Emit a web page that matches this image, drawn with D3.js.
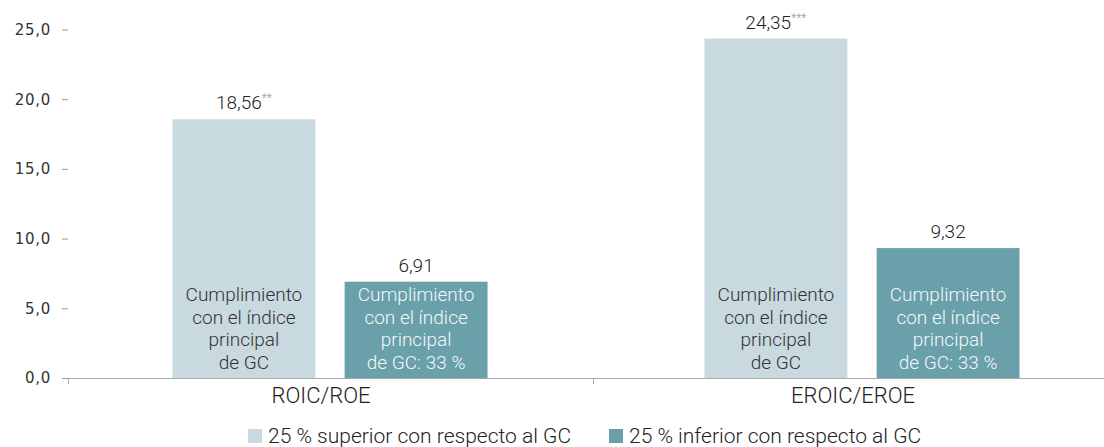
<!DOCTYPE html>
<html>
<head>
<meta charset="utf-8">
<script src="https://cdn.jsdelivr.net/npm/d3@7"></script>
<style>
  body { margin: 0; background: #fff; }
  svg { display: block; font-family: Roboto, sans-serif; font-weight: 300; }
</style>
</head>
<body>
<div id="chart"></div>
<script>
(function() {

    var width = 1104,
    height = 447;

    // data
    var categories = ["ROIC/ROE", "EROIC/EROE"]
    var seriesNames = ["25 % superior con respecto al GC", "25 % inferior con respecto al GC"]
    var superiorValues = [18.56, 24.35]
    var inferiorValues = [6.91, 9.32]
    var superiorStars = ["**", "***"]
    var inferiorStars = ["", ""]
    var superiorLines = ["Cumplimiento", "con el índice", "principal", "de GC"]
    var inferiorLines = ["Cumplimiento", "con el índice", "principal", "de GC: 33 %"]
    var yTicks = [0, 5, 10, 15, 20, 25]

    var colors = ["#c8d9e0", "#6aa0aa"]
    var textColors = ["#333", "#f4f8f9"]

    var rows = categories.map(function(c, i) {
        return {
            cat: c,
            bars: [
                { s: 0, value: superiorValues[i], stars: superiorStars[i], lines: superiorLines },
                { s: 1, value: inferiorValues[i], stars: inferiorStars[i], lines: inferiorLines }
            ]
        }
    })

    var svg = d3.select("#chart")
    .append("svg")
    .attr("width", width)
    .attr("height", height)

    var y = d3.scaleLinear().domain([0, 25]).range([378, 29.5])

    // bars sit on a slightly wider band than the axis ticks
    var x0 = d3.scaleBand().domain(categories).range([64, 1128])
    var xTicks = d3.scaleBand().domain(categories).range([68, 1118])

    var x1 = d3.scaleBand().domain([0, 1]).range([0, x0.bandwidth()])
        .paddingInner(0.17).paddingOuter(0.63)

    var fmt = function(v) { return d3.format(".2f")(v).replace(".", ",") }

    // y axis ticks (no domain line)
    var yAxis = svg.append("g")
    yAxis.selectAll(".ytick")
        .data(yTicks)
        .enter().append("line")
        .attr("x1", 62).attr("x2", 68)
        .attr("y1", function(d) { return y(d) + 0.5 })
        .attr("y2", function(d) { return y(d) + 0.5 })
        .attr("stroke", "#999")
        .attr("stroke-width", 1)

    yAxis.selectAll(".ylab")
        .data(yTicks)
        .enter().append("text")
        .attr("x", 51)
        .attr("y", function(d) { return y(d) })
        .attr("dy", "0.36em")
        .attr("text-anchor", "end")
        .attr("font-size", 15)
        .attr("font-weight", 400)
        .attr("letter-spacing", 0.7)
        .attr("font-family", "'DejaVu Sans', sans-serif")
        .attr("fill", "#333")
        .text(function(d) { return d3.format(".1f")(d).replace(".", ",") })

    // bars
    var groups = svg.selectAll(".grp")
        .data(rows)
        .enter().append("g")
        .attr("transform", function(d) { return "translate(" + x0(d.cat) + ",0)" })

    var bars = groups.selectAll(".bar")
        .data(function(d) { return d.bars })
        .enter().append("g")

    bars.append("rect")
        .attr("x", function(d) { return x1(d.s) })
        .attr("y", function(d) { return y(d.value) })
        .attr("width", x1.bandwidth())
        .attr("height", function(d) { return y(0) - y(d.value) })
        .attr("fill", function(d) { return colors[d.s] })

    var vl = bars.append("text")
        .attr("x", function(d) { return x1(d.s) + x1.bandwidth() / 2 })
        .attr("y", function(d) { return y(d.value) - 10 })
        .attr("text-anchor", "middle")
        .attr("font-size", 19)
        .attr("fill", "#222")
    vl.append("tspan").text(function(d) { return fmt(d.value) })
    vl.append("tspan")
        .attr("dy", -7)
        .attr("font-size", 12)
        .attr("fill", "#999")
        .text(function(d) { return d.stars })

    bars.each(function(d) {
        var t = d3.select(this).append("text")
            .attr("text-anchor", "middle")
            .attr("font-size", 19)
            .attr("fill", textColors[d.s])
        t.selectAll("tspan")
            .data(d.lines)
            .enter().append("tspan")
            .attr("x", x1(d.s) + x1.bandwidth() / 2)
            .attr("y", function(l, i) { return 301 + i * 22.5 })
            .text(function(l) { return l })
    })

    // x axis
    svg.append("line")
        .attr("x1", 68).attr("x2", width)
        .attr("y1", y(0) + 0.5).attr("y2", y(0) + 0.5)
        .attr("stroke", "#aaa")
    svg.selectAll(".xtick")
        .data(categories)
        .enter().append("line")
        .attr("x1", function(d) { return xTicks(d) + 0.5 })
        .attr("x2", function(d) { return xTicks(d) + 0.5 })
        .attr("y1", y(0)).attr("y2", y(0) + 6)
        .attr("stroke", "#aaa")

    svg.selectAll(".xlab")
        .data(categories)
        .enter().append("text")
        .attr("x", function(d) { return x0(d) + x0.bandwidth() / 2 - 9 })
        .attr("y", 403)
        .attr("text-anchor", "middle")
        .attr("font-size", 22)
        .attr("fill", "#222")
        .text(function(d) { return d })

    // legend
    var legendX = [248, 609]
    var legend = svg.selectAll(".leg")
        .data(seriesNames)
        .enter().append("g")
        .attr("transform", function(d, i) { return "translate(" + legendX[i] + ",429)" })
    legend.append("rect")
        .attr("width", 14).attr("height", 14)
        .attr("fill", function(d, i) { return colors[i] })
    legend.append("text")
        .attr("x", 20)
        .attr("y", 14)
        .attr("font-size", 21)
        .attr("fill", "#222")
        .text(function(d) { return d })

})();
</script>
</body>
</html>
